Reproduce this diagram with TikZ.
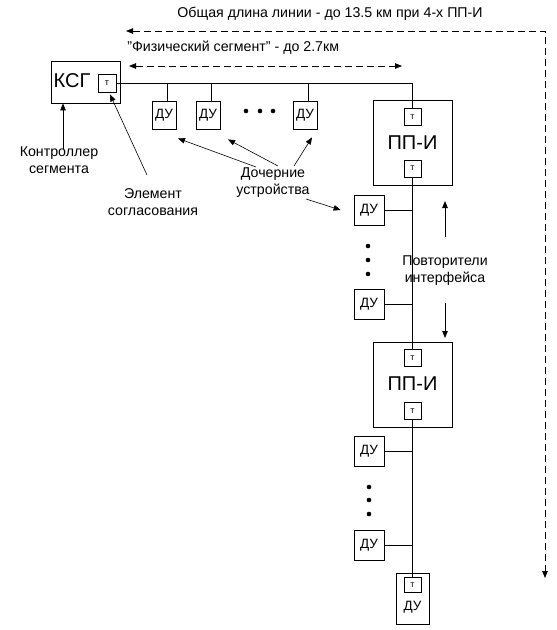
\documentclass[tikz,border=0pt]{standalone}
\usepackage{fontspec}
\setmainfont{Liberation Sans}
\usetikzlibrary{arrows.meta,calc}
\tikzset{every picture/.style={>={Triangle[length=7pt,width=5.5pt]},line width=0.8pt}}
\tikzset{
  tbox/.style={draw,fill=white,inner sep=0pt,minimum width=17pt,minimum height=17pt,font=\fontsize{9}{9}\selectfont},
  dubox/.style={draw,inner sep=0pt,minimum width=30pt,minimum height=30pt,font=\fontsize{13.5}{13.5}\selectfont},
  bigbox/.style={draw,inner sep=0pt,minimum width=79pt,minimum height=85pt},
  bigtext/.style={inner sep=0pt,font=\fontsize{20}{20}\selectfont},
  lbl/.style={align=center,inner sep=0pt,font=\fontsize{14.2}{17}\selectfont},
  dline/.style={dash pattern=on 7pt off 4pt}
}

\begin{document}
\begin{tikzpicture}[x=1pt,y=-1pt]
      \useasboundingbox (0,0) rectangle (557,630);
      \node[lbl] (total) at (330,14) {Общая длина линии - до 13.5 км при 4-х ПП-И};
      \node[lbl,anchor=west] (phys) at (127,48) {"Физический сегмент" - до 2.7км};
      \coordinate (lenL) at (126,31);
      \coordinate (lenC) at (545,31);
      \coordinate (lenB) at (545,578);
      \coordinate (segL) at (129,66);
      \coordinate (segR) at (402,66);
      \draw[dline,<->] (lenL) -- (lenC) -- (lenB);
      \draw[dline,<->] (segL) -- (segR);

      \node[draw,minimum width=69pt,minimum height=42pt,inner sep=0pt] (KSG) at (85.5,82) {};
      \node[bigtext] (KSGtext) at (72,81) {КСГ};
      \node[tbox,minimum width=18pt,minimum height=18pt] (T0) at (107,83) {т};

      \node[dubox,minimum width=24pt,minimum height=28pt] (D1) at (164,115) {ДУ};
      \node[dubox,minimum width=24pt,minimum height=28pt] (D2) at (208,115) {ДУ};
      \node[dubox,minimum width=24pt,minimum height=28pt] (D3) at (305,115) {ДУ};
      \foreach \x in {246,260,273} \fill (\x,111) circle (2.3);

      \node[bigbox] (PP1) at (412.5,142.5) {};
      \node[bigtext] (PP1text) at (412.5,143) {ПП-И};
      \node[tbox] (T1a) at (412.5,117) {т};
      \node[tbox] (T1b) at (412.5,168.5) {т};

      \node[dubox] (S1) at (369,210) {ДУ};
      \node[dubox] (S2) at (369,304) {ДУ};
      \foreach \y in {246,260,274} \fill (368,\y) circle (2.3);

      \node[bigbox] (PP2) at (412.5,384.5) {};
      \node[bigtext] (PP2text) at (412.5,384) {ПП-И};
      \node[tbox] (T2a) at (412.5,358) {т};
      \node[tbox] (T2b) at (412.5,411) {т};

      \node[dubox] (S3) at (369,451) {ДУ};
      \node[dubox] (S4) at (369,545) {ДУ};
      \foreach \y in {487,500,514} \fill (369,\y) circle (2.3);

      \node[draw,minimum width=33pt,minimum height=51pt,inner sep=0pt] (DE) at (412.5,598.5) {};
      \node[tbox,minimum height=15pt] (T3) at (412.5,585) {т};
      \node[inner sep=0pt,font=\fontsize{13.5}{13.5}\selectfont] (DEtext) at (412.5,607) {ДУ};

      \draw (T0.east) -| (T1a.north);
      \draw (T1b.south) -- (T2a.north);
      \draw (T2b.south) -- (T3.north);
      \foreach \d in {D1,D2,D3} \draw ([xshift=3pt]\d.north) -- ([xshift=3pt]\d.north |- T0.east);
      \foreach \s in {S1,S2,S3,S4} \draw (\s.east) -- (\s.east -| T1b.south);

      \node[lbl] (ctl) at (59,160) {Контроллер\\сегмента};
      \node[lbl] (elem) at (153,202) {Элемент\\согласования};
      \node[lbl] (kids) at (273,183) {Дочерние\\устройства};
      \node[lbl] (rep) at (445,271) {Повторители\\интерфейса};

      \draw[->] (ctl.north -| KSGtext.south) ++(-9pt,-3pt) -- ([xshift=-9pt]KSGtext.south |- KSG.south);
      \coordinate (elemtail) at (147,175);
      \draw[->,line width=0.6pt] (elemtail) -- ([xshift=3pt,yshift=-2pt]T0.south);
      \coordinate (kt1) at (256,167);
      \coordinate (kt2) at (278,166);
      \coordinate (kt3) at (294,166);
      \coordinate (kt4) at (306,199);
      \draw[->,line width=0.6pt] (kt1) -- ([shift={(14pt,-9pt)}]D1.south);
      \draw[->,line width=0.6pt] (kt2) -- ([shift={(20pt,-10pt)}]D2.south);
      \draw[->,line width=0.6pt] (kt3) -- ([shift={(7pt,-8pt)}]D3.south);
      \draw[->,line width=0.6pt] (kt4) -- ([xshift=-13pt]S1.west);
      \coordinate (ru1) at (445,237);
      \coordinate (ru2) at (445,201);
      \coordinate (rd1) at (445,303);
      \coordinate (rd2) at (445,338);
      \draw[->] (ru1) -- (ru2);
      \draw[->] (rd1) -- (rd2);
\end{tikzpicture}
\end{document}
